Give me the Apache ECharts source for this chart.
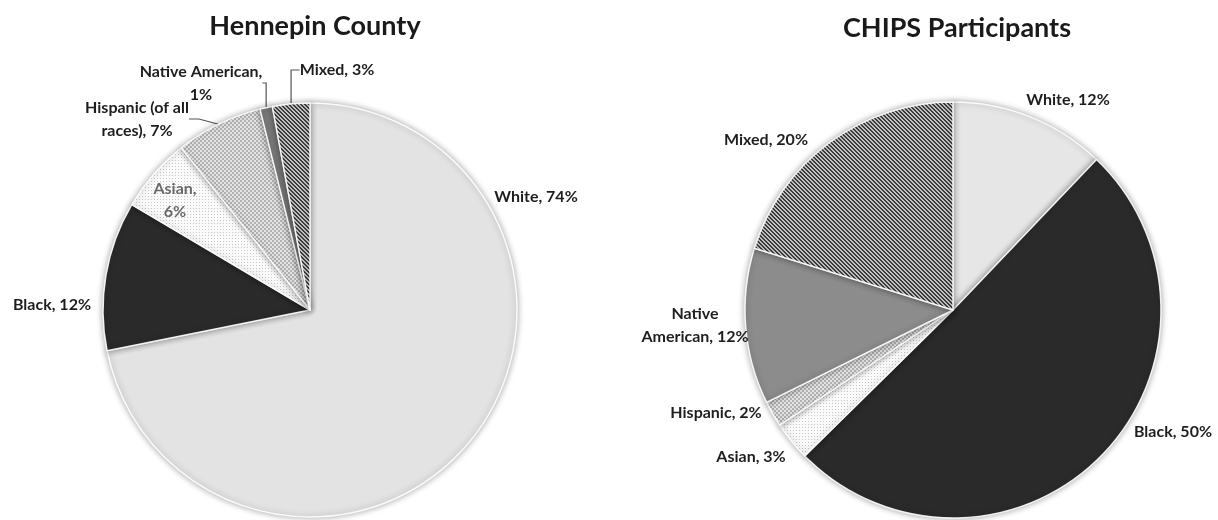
<!DOCTYPE html>
<html>
<head>
<meta charset="utf-8">
<script src="https://cdn.jsdelivr.net/npm/echarts@6/dist/echarts.min.js"></script>
<style>
  html, body { margin: 0; padding: 0; background: #ffffff; }
  #chart { width: 1218px; height: 520px; }
</style>
</head>
<body>
<div id="chart"></div>
<script>
// Race / ethnicity groups, in clockwise order starting at 12 o'clock
const groups = ['White', 'Black', 'Asian', 'Hispanic', 'Native American', 'Mixed'];

// Hennepin County population shares (%)
const hennepinValues = [74, 12, 6, 7, 1, 3];
const hennepinLabelText = ['White, {v}%', 'Black, {v}%', 'Asian,\n{v}%',
  'Hispanic (of all\nraces), {v}%', 'Native American,\n{v}%', 'Mixed, {v}%'];

// CHIPS participant shares (%)
const chipsValues = [12, 50, 3, 2, 12, 20];
const chipsLabelText = ['White, {v}%', 'Black, {v}%', 'Asian, {v}%',
  'Hispanic, {v}%', 'Native\nAmerican, {v}%', 'Mixed, {v}%'];

const titles = ['Hennepin County', 'CHIPS Participants'];

// ---- fill patterns -------------------------------------------------------
function makePattern(kind) {
  const c = document.createElement('canvas');
  const g = c.getContext('2d');
  if (kind === 'stripes') {
    c.width = c.height = 4;
    g.fillStyle = '#c2c2c2'; g.fillRect(0, 0, 4, 4);
    g.fillStyle = '#3c3c3c';
    for (let i = 0; i < 4; i++) { g.fillRect(i, i, 1, 1); g.fillRect((i + 1) % 4, i, 1, 1); }
  } else if (kind === 'checker') {
    c.width = c.height = 4;
    g.fillStyle = '#e4e4e4'; g.fillRect(0, 0, 4, 4);
    g.fillStyle = '#b2b2b2'; g.fillRect(0, 0, 2, 2); g.fillRect(2, 2, 2, 2);
  } else if (kind === 'dots') {
    c.width = c.height = 3;
    g.fillStyle = '#fbfbfb'; g.fillRect(0, 0, 3, 3);
    g.fillStyle = '#c6c6c6'; g.fillRect(1, 1, 1, 1);
  }
  return { image: c, repeat: 'repeat' };
}

const fills = {
  left:  ['#e3e3e3', '#2a2a2a', makePattern('dots'), makePattern('checker'), '#7a7a7a', makePattern('stripes')],
  right: ['#e6e6e6', '#2a2a2a', makePattern('dots'), makePattern('checker'), '#8c8c8c', makePattern('stripes')]
};

// ---- layout ---------------------------------------------------------------
const pies = [
  { center: [310, 310], radius: 207,
    // label centres, relative to the pie centre
    labelOffset: [[226, -113], [-258, -5], [-135, -110], [-173, -191], [-109, -227], [27, -240]],
    leader: [false, false, false, true, true, true],
    labelColor: ['#1e1e1e', '#1e1e1e', '#6a6a6a', '#1e1e1e', '#1e1e1e', '#1e1e1e'] },
  { center: [953, 310], radius: 208,
    labelOffset: [[115, -210], [220, 122], [-202, 147], [-237, 103], [-258, 15], [-187, -170]],
    leader: [false, false, false, false, false, false],
    labelColor: ['#1e1e1e', '#1e1e1e', '#1e1e1e', '#1e1e1e', '#1e1e1e', '#1e1e1e'] }
];

function buildSeries(values, labelText, colors, geo) {
  return {
    type: 'pie',
    center: geo.center,
    radius: geo.radius,
    startAngle: 90,
    clockwise: true,
    avoidLabelOverlap: false,
    animation: false,
    itemStyle: {
      borderColor: 'rgba(255,255,255,0.9)',
      borderWidth: 1.5,
      shadowBlur: 6,
      shadowColor: 'rgba(0,0,0,0.35)'
    },
    label: {
      show: true,
      position: 'outside',
      fontFamily: 'Lato',
      fontWeight: 'bold',
      fontSize: 16,
      lineHeight: 23,
      align: 'center',
      color: '#1e1e1e'
    },
    labelLine: { show: false },
    labelLayout: p => ({
      x: geo.center[0] + geo.labelOffset[p.dataIndex][0],
      y: geo.center[1] + geo.labelOffset[p.dataIndex][1],
      align: 'center',
      verticalAlign: 'middle'
    }),
    emphasis: { disabled: true },
    data: groups.map((name, i) => ({
      name: name,
      value: values[i],
      itemStyle: { color: colors[i] },
      label: {
        formatter: labelText[i].replace('{v}', values[i]),
        color: geo.labelColor[i]
      },
      labelLine: {
        show: geo.leader[i],
        length: 12,
        length2: 10,
        smooth: false,
        lineStyle: { color: '#555555', width: 1.2 }
      }
    }))
  };
}

const chart = echarts.init(document.getElementById('chart'), null, { renderer: 'canvas' });
chart.setOption({
  backgroundColor: '#ffffff',
  title: [
    { text: titles[0], left: 310, top: 8, textAlign: 'center',
      textStyle: { fontFamily: 'Lato', fontWeight: 'bold', fontSize: 27, color: '#1a1a1a' } },
    { text: titles[1], left: 952, top: 10, textAlign: 'center',
      textStyle: { fontFamily: 'Lato', fontWeight: 'bold', fontSize: 27, color: '#1a1a1a' } }
  ],
  series: [
    buildSeries(hennepinValues, hennepinLabelText, fills.left, pies[0]),
    buildSeries(chipsValues, chipsLabelText, fills.right, pies[1])
  ]
});
</script>
</body>
</html>
